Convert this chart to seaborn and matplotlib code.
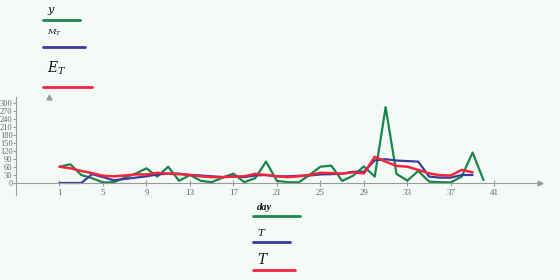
import matplotlib
matplotlib.use('Agg')
import matplotlib.pyplot as plt
from matplotlib.lines import Line2D
import numpy as np
import pandas as pd
import seaborn as sns

sns.set_style('white')
plt.rcParams['font.family'] = ['Liberation Serif', 'DejaVu Serif']
plt.rcParams['mathtext.fontset'] = 'dejavuserif'

# daily values
day = list(range(1, 41))
y_obs = [61, 70, 30, 18, 2, 3, 20, 35, 55, 24,
         61, 8, 30, 8, 3, 20, 35, 3, 18, 80,
         8, 3, 2, 30, 61, 65, 8, 27, 62, 24,
         284, 34, 9, 45, 5, 3, 2, 24, 114, 11]
m_t = [0, 0, 0, 33, 22, 10, 15, 20, 25, 32,
       35, 35, 30, 28, 25, 22, 25, 22, 28, 30,
       25, 25, 27, 28, 32, 33, 35, 42, 42, 85,
       89, 84, 82, 80, 24, 20, 20, 30, 30]
e_t = [61, 55, 45, 37, 27, 25, 28, 32, 32, 38,
       35, 33, 30, 25, 22, 22, 24, 25, 34, 30,
       25, 22, 25, 30, 38, 37, 35, 40, 36, 98,
       80, 64, 61, 49, 36, 29, 28, 49, 40]

GREEN = '#16874a'
BLUE = '#3b3b9e'
RED = '#f2253c'
BG = '#f5faf7'
AXC = '#9a9a9a'

df_y = pd.DataFrame({'day': day, 'v': y_obs})
df_m = pd.DataFrame({'day': day[:len(m_t)], 'v': m_t})
df_e = pd.DataFrame({'day': day[:len(e_t)], 'v': e_t})

fig = plt.figure(figsize=(5.6, 2.8), dpi=100, facecolor=BG)
ax = fig.add_axes([16 / 560, 85 / 280, 524 / 560, 98 / 280])
ax.set_facecolor(BG)

sns.lineplot(data=df_y, x='day', y='v', ax=ax, color=GREEN, lw=1.6)
sns.lineplot(data=df_m, x='day', y='v', ax=ax, color=BLUE, lw=1.6)
sns.lineplot(data=df_e, x='day', y='v', ax=ax, color=RED, lw=1.8)

ax.set_xlim(-3.0, 45.2)
ax.set_ylim(-45, 322)
ax.set_xlabel('')
ax.set_ylabel('')

for s in ['top', 'right']:
    ax.spines[s].set_visible(False)
ax.spines['bottom'].set_position(('data', 0))
ax.spines['bottom'].set_color(AXC)
ax.spines['left'].set_color(AXC)
ax.spines['bottom'].set_linewidth(0.8)
ax.spines['left'].set_linewidth(0.8)

ax.set_xticks(list(range(1, 42, 4)))
ax.set_yticks(list(range(0, 301, 30)))
ax.tick_params(axis='x', direction='inout', length=4, color=AXC, labelsize=6.5,
               labelcolor='#666666', pad=2)
ax.tick_params(axis='y', direction='out', length=2, color=AXC, labelsize=6,
               labelcolor='#666666', pad=0.5)
ax.tick_params(bottom=True, left=True)

# arrow heads on the axes
ax.plot(1, 0, '>', color=AXC, ms=3.5, transform=ax.get_yaxis_transform(), clip_on=False)
ax.plot(0, 1, '^', color=AXC, ms=3.5, transform=ax.get_xaxis_transform(), clip_on=False)


def label(x, y, txt, size, color, x0, x1, ly, weight='normal'):
    fig.text(x / 560, 1 - y / 280, txt, fontsize=size, style='italic',
             weight=weight, va='center', ha='left', color='#111111')
    fig.add_artist(Line2D([x0 / 560, x1 / 560], [1 - ly / 280, 1 - ly / 280],
                          color=color, lw=2, transform=fig.transFigure))


label(47, 11, r'$y$', 8, GREEN, 43, 80, 20)
label(47, 33, r'$M_T$', 6, BLUE, 43, 85, 47)
label(47, 68, r'$E_T$', 10, RED, 43, 92, 87)
label(257, 208, 'day', 7.5, GREEN, 253, 300, 216, weight='bold')
label(257, 232, r'$T$', 7.5, BLUE, 253, 290, 242)
label(257, 259, r'$T$', 10, RED, 253, 295, 270)

fig.savefig('out.png', dpi=100, facecolor=BG)
